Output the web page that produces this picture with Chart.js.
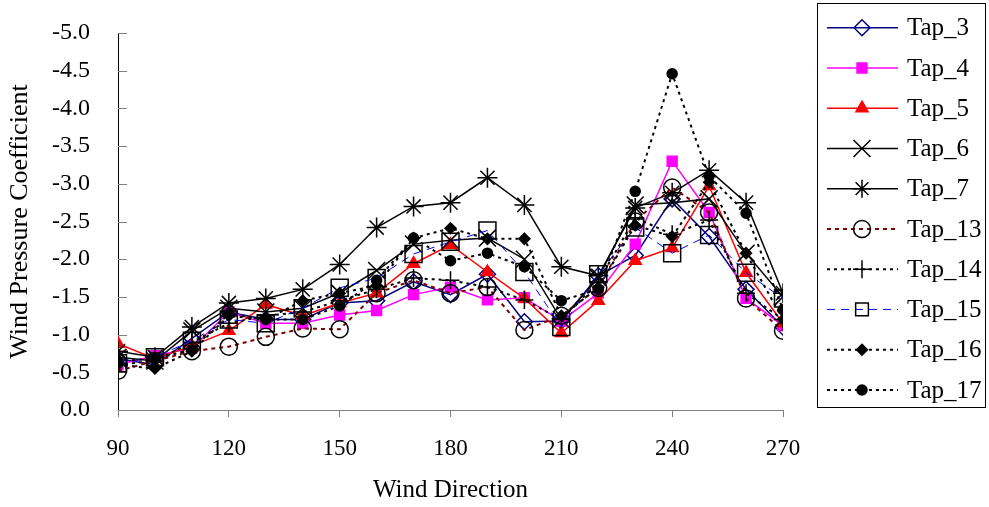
<!DOCTYPE html>
<html>
<head>
<meta charset="utf-8">
<script src="https://cdn.jsdelivr.net/npm/chart.js@4/dist/chart.umd.min.js"></script>
<style>
    html, body { margin: 0; padding: 0; background: #fff; }
    #wrap { width: 989px; height: 507px; }
</style>
</head>
<body>
<div id="wrap"><canvas id="cpChart" width="989" height="507"></canvas></div>
<script>
// wind directions (deg) and pressure coefficients per tap
const directions = [90, 100, 110, 120, 130, 140, 150, 160, 170, 180, 190, 200, 210, 220, 230, 240, 250, 260, 270];

const tap3  = [-0.68, -0.60, -0.95, -1.30, -1.20, -1.20, -1.42, -1.45, -1.70, -1.53, -1.80, -1.17, -1.18, -1.78, -2.05, -2.80, -2.30, -1.60, -1.10];
const tap4  = [-0.60, -0.72, -0.82, -1.30, -1.15, -1.15, -1.26, -1.32, -1.53, -1.63, -1.46, -1.49, -1.18, -1.55, -2.20, -3.30, -2.62, -1.48, -1.12];
const tap5  = [-0.88, -0.68, -0.85, -1.05, -1.40, -1.25, -1.42, -1.55, -1.94, -2.19, -1.83, -1.48, -1.02, -1.45, -1.98, -2.15, -2.97, -1.82, -1.15];
const tap6  = [-0.70, -0.65, -1.05, -1.35, -1.30, -1.35, -1.55, -1.85, -2.20, -2.25, -2.28, -2.00, -1.20, -1.75, -2.72, -2.75, -2.80, -2.08, -1.50];
const tap7  = [-0.78, -0.70, -1.10, -1.42, -1.48, -1.60, -1.93, -2.42, -2.70, -2.75, -3.08, -2.72, -1.90, -1.78, -2.68, -2.88, -3.18, -2.75, -1.55];
const tap13 = [-0.52, -0.65, -0.78, -0.84, -0.97, -1.08, -1.07, -1.55, -1.72, -1.55, -1.63, -1.06, -1.25, -1.62, -2.50, -2.95, -2.62, -1.48, -1.05];
const tap14 = [-0.60, -0.65, -0.90, -1.15, -1.25, -1.30, -1.45, -1.60, -1.75, -1.72, -1.63, -1.46, -1.20, -1.70, -2.55, -2.33, -2.52, -1.55, -1.20];
const tap15 = [-0.62, -0.70, -0.92, -1.20, -1.15, -1.35, -1.62, -1.75, -2.07, -2.23, -2.38, -1.83, -1.10, -1.80, -2.42, -2.08, -2.32, -1.82, -1.48];
const tap16 = [-0.60, -0.55, -0.78, -1.25, -1.20, -1.45, -1.55, -1.65, -2.28, -2.41, -2.27, -2.27, -1.25, -1.62, -2.45, -2.30, -3.02, -2.08, -1.20];
const tap17 = [-0.65, -0.68, -0.80, -1.28, -1.20, -1.20, -1.38, -1.72, -2.28, -1.98, -2.08, -1.90, -1.45, -1.60, -2.90, -4.46, -3.10, -2.61, -1.33];

const SERIF = '"Liberation Serif", "Times New Roman", serif';

function series(label, values, opts) {
    return Object.assign({
        label: label,
        data: directions.map((d, i) => ({ x: d, y: values[i] })),
        borderWidth: 1.5,
        pointBorderWidth: 1.5,
        pointBackgroundColor: 'rgba(0,0,0,0)',
        tension: 0
    }, opts);
}

const datasets = [
    series('Tap_3',  tap3,  { borderColor: '#000080', pointBorderColor: '#000080', pointStyle: 'rectRot', pointRadius: 8 }),
    series('Tap_4',  tap4,  { borderColor: '#FF00FF', pointBorderColor: '#FF00FF', pointBackgroundColor: '#FF00FF', pointStyle: 'rect', pointRadius: 7 }),
    series('Tap_5',  tap5,  { borderColor: '#FF0000', pointBorderColor: '#FF0000', pointBackgroundColor: '#FF0000', pointStyle: 'triangle', pointRadius: 7 }),
    series('Tap_6',  tap6,  { borderColor: '#000000', pointBorderColor: '#000000', pointStyle: 'crossRot', pointRadius: 12 }),
    series('Tap_7',  tap7,  { borderColor: '#000000', pointBorderColor: '#000000', pointStyle: 'star', pointRadius: 10 }),
    series('Tap_13', tap13, { borderColor: '#800000', borderDash: [4, 4], pointBorderColor: '#000000', pointStyle: 'circle', pointRadius: 8.5, borderWidth: 2 }),
    series('Tap_14', tap14, { borderColor: '#000000', borderDash: [3, 4], pointBorderColor: '#000000', pointStyle: 'cross', pointRadius: 9, borderWidth: 2 }),
    series('Tap_15', tap15, { borderColor: '#0000FF', borderDash: [8, 6], borderWidth: 1, pointBorderColor: '#000000', pointStyle: 'rect', pointRadius: 12 }),
    series('Tap_16', tap16, { borderColor: '#000000', borderDash: [3, 4], pointBorderColor: '#000000', pointBackgroundColor: '#000000', pointStyle: 'rectRot', pointRadius: 5.5, borderWidth: 2 }),
    series('Tap_17', tap17, { borderColor: '#000000', borderDash: [3, 4], pointBorderColor: '#000000', pointBackgroundColor: '#000000', pointStyle: 'circle', pointRadius: 5, borderWidth: 2 })
];
// later taps sit on top, like the spreadsheet draws them
datasets.forEach((ds, i) => { ds.order = datasets.length - i; });

// short grey tick marks on the inner side of the value axis
const innerTicks = {
    id: 'innerTicks',
    beforeDatasetsDraw(chart) {
        const { ctx, scales: { y } } = chart;
        const left = chart.chartArea.left;
        ctx.save();
        ctx.strokeStyle = '#808080';
        ctx.lineWidth = 1;
        y.ticks.forEach(t => {
            const py = Math.round(y.getPixelForValue(t.value)) + 0.5;
            ctx.beginPath();
            ctx.moveTo(left, py);
            ctx.lineTo(left + 9, py);
            ctx.stroke();
        });
        ctx.restore();
    }
};

// boxed legend with a line sample and the marker for each tap
const boxLegend = {
    id: 'boxLegend',
    afterDraw(chart) {
        const ctx = chart.ctx;
        ctx.save();
        ctx.strokeStyle = '#000';
        ctx.lineWidth = 1;
        ctx.strokeRect(817.5, 3.5, 168, 404);
        chart.data.datasets.forEach((ds, i) => {
            const y = 27.7 + i * 40.25;
            ctx.save();
            ctx.strokeStyle = ds.borderColor;
            ctx.lineWidth = ds.borderWidth;
            ctx.setLineDash(ds.borderDash || []);
            ctx.beginPath();
            ctx.moveTo(827, y);
            ctx.lineTo(898, y);
            ctx.stroke();
            ctx.setLineDash([]);
            ctx.strokeStyle = ds.pointBorderColor;
            ctx.fillStyle = ds.pointBackgroundColor;
            ctx.lineWidth = ds.pointBorderWidth;
            const r = Math.min(ds.pointRadius, 9);
            Chart.helpers.drawPoint(ctx, {
                pointStyle: ds.pointStyle,
                radius: ds.pointStyle === 'crossRot' ? 12 : r,
                rotation: 0,
                borderWidth: ds.pointBorderWidth
            }, 862, y);
            ctx.restore();
            ctx.fillStyle = '#000';
            ctx.font = '25px ' + SERIF;
            ctx.textBaseline = 'middle';
            ctx.textAlign = 'left';
            ctx.fillText(ds.label, 907, y + 1);
        });
        ctx.restore();
    }
};

new Chart(document.getElementById('cpChart'), {
    type: 'line',
    data: { datasets: datasets },
    plugins: [innerTicks, boxLegend],
    options: {
        responsive: false,
        animation: false,
        layout: { padding: { top: 33, right: 206, left: 0, bottom: 0 } },
        plugins: {
            legend: { display: false },
            tooltip: { enabled: false }
        },
        scales: {
            x: {
                type: 'linear',
                min: 90,
                max: 270,
                afterFit: s => { s.height = 97; },
                grid: { drawOnChartArea: false, tickLength: 7, color: '#808080' },
                border: { color: '#808080', width: 1 },
                ticks: {
                    stepSize: 30,
                    padding: 18,
                    color: '#000',
                    font: { family: SERIF, size: 23 },
                    maxRotation: 0
                },
                title: {
                    display: true,
                    text: 'Wind Direction',
                    color: '#000',
                    font: { family: SERIF, size: 25 },
                    padding: { top: 0, bottom: 2 }
                }
            },
            y: {
                min: -5,
                max: 0,
                reverse: true,
                afterFit: s => {
                    s.width = 118;
                    s.paddingTop = 0;
                    s.paddingBottom = 0;
                },
                grid: { drawOnChartArea: false, drawTicks: false },
                border: { color: '#000', width: 1 },
                ticks: {
                    stepSize: 0.5,
                    padding: 28,
                    color: '#000',
                    font: { family: SERIF, size: 24 },
                    callback: v => Number(v).toFixed(1)
                },
                title: {
                    display: true,
                    text: 'Wind Pressure Coefficient',
                    color: '#000',
                    font: { family: SERIF, size: 26 },
                    padding: { top: 5, bottom: 0 }
                }
            }
        }
    }
});
</script>
</body>
</html>
